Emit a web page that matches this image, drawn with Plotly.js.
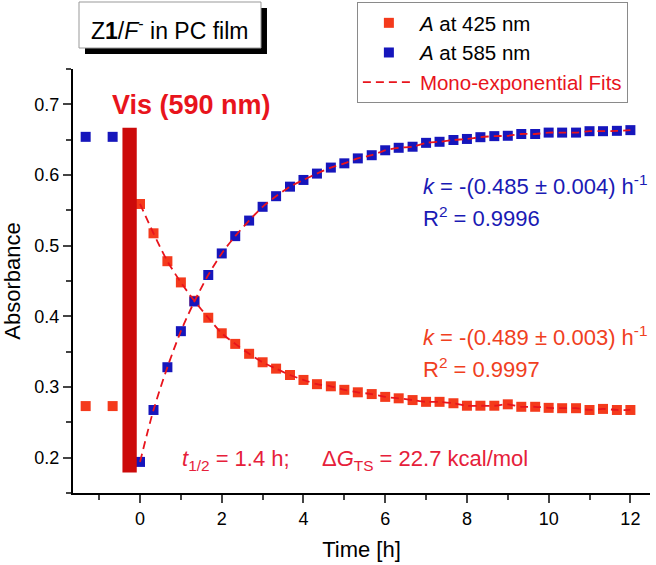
<!DOCTYPE html>
<html>
<head>
<meta charset="utf-8">
<script src="https://cdn.plot.ly/plotly-3.0.1.min.js"></script>
<style>html,body{margin:0;padding:0;background:#fff;}#chart{width:656px;height:565px;}</style>
</head>
<body>
<div id="chart"></div>
<script>
// Time points [h] (two pre-irradiation points, then every 20 min)
var time = [-1.33, -0.67, 0, 0.33, 0.67, 1, 1.33, 1.67, 2, 2.33, 2.67, 3, 3.33, 3.67, 4, 4.33, 4.67, 5, 5.33, 5.67, 6, 6.33, 6.67, 7, 7.33, 7.67, 8, 8.33, 8.67, 9, 9.33, 9.67, 10, 10.33, 10.67, 11, 11.33, 11.67, 12];
// Absorbance at 425 nm
var a425 = [0.273, 0.273, 0.559, 0.5175, 0.478, 0.448, 0.422, 0.398, 0.376, 0.361, 0.347, 0.335, 0.326, 0.317, 0.310, 0.304, 0.301, 0.296, 0.2925, 0.290, 0.286, 0.284, 0.2815, 0.279, 0.279, 0.277, 0.2735, 0.2735, 0.2735, 0.2755, 0.272, 0.272, 0.2705, 0.270, 0.270, 0.2675, 0.269, 0.2675, 0.2675];
// Absorbance at 585 nm
var a585 = [0.654, 0.654, 0.194, 0.2675, 0.328, 0.379, 0.421, 0.4585, 0.489, 0.5135, 0.5355, 0.555, 0.570, 0.5835, 0.593, 0.602, 0.6105, 0.6165, 0.6235, 0.628, 0.635, 0.6385, 0.640, 0.6455, 0.647, 0.6495, 0.651, 0.6535, 0.655, 0.6555, 0.658, 0.658, 0.660, 0.660, 0.660, 0.662, 0.662, 0.6625, 0.6635];
var seriesNames = ['<i>A</i> at 425 nm', '<i>A</i> at 585 nm', 'Mono-exponential Fits'];
var xTickVals = [0, 2, 4, 6, 8, 10, 12];
var yTickVals = [0.2, 0.3, 0.4, 0.5, 0.6, 0.7];

var FONT = 'Liberation Sans, Arial, sans-serif';
var RED_M = '#f43a1c', BLUE_M = '#1616bc', FIT = '#e8141c';

// fit lines start at t = 0 (after the pre-irradiation points)
var tFit = time.slice(2);

var traces = [
  {x: time, y: a425, name: seriesNames[0], mode: 'markers', type: 'scatter',
   marker: {symbol: 'square', size: 10, color: RED_M}},
  {x: time, y: a585, name: seriesNames[1], mode: 'markers', type: 'scatter',
   marker: {symbol: 'square', size: 10, color: BLUE_M}},
  {x: tFit, y: a425.slice(2), name: '<span style="color:#e8141c">' + seriesNames[2] + '</span>',
   mode: 'lines', type: 'scatter', legendgroup: 'fit',
   line: {color: FIT, width: 1.8, dash: '8px,5px', shape: 'spline', smoothing: 0.8}},
  {x: tFit, y: a585.slice(2), name: seriesNames[2], mode: 'lines', type: 'scatter',
   legendgroup: 'fit', showlegend: false,
   line: {color: FIT, width: 1.8, dash: '8px,5px', shape: 'spline', smoothing: 0.8}}
];

var layout = {
  width: 656, height: 565,
  margin: {l: 73, r: 6, t: 69, b: 72, autoexpand: false},
  paper_bgcolor: '#fff', plot_bgcolor: '#fff',
  font: {family: FONT, size: 18, color: '#000'},
  showlegend: true,
  legend: {x: 0.492, y: 1.158, xanchor: 'left', yanchor: 'top', bgcolor: '#fff',
           bordercolor: '#8a8a8a', borderwidth: 1, font: {family: FONT, size: 20.5, color: '#000'},
           itemwidth: 52, tracegroupgap: 0},
  xaxis: {range: [-1.64, 12.48], tickvals: xTickVals, ticks: 'outside', ticklen: 8, tickwidth: 2,
          showline: true, linewidth: 2, linecolor: '#000', showgrid: false, zeroline: false,
          tickfont: {size: 18},
          minor: {dtick: 1, tick0: 0, ticks: 'outside', ticklen: 5, tickwidth: 2, showgrid: false},
          title: {text: 'Time [h]', font: {size: 22}, standoff: 14}},
  yaxis: {range: [0.15, 0.75], tickvals: yTickVals, tickformat: '.1f', ticks: 'outside', ticklen: 8, tickwidth: 2,
          showline: true, linewidth: 2, linecolor: '#000', showgrid: false, zeroline: false,
          tickfont: {size: 18},
          minor: {dtick: 0.05, tick0: 0, ticks: 'outside', ticklen: 5, tickwidth: 2, showgrid: false},
          title: {text: 'Absorbance', font: {size: 22}, standoff: 8}},
  shapes: [
    // irradiation bar
    {type: 'rect', xref: 'x', yref: 'y', x0: -0.43, x1: -0.08, y0: 0.179, y1: 0.667,
     fillcolor: '#cc0a0a', line: {width: 0}, layer: 'above'},
    // title box shadow + box
    {type: 'rect', xref: 'paper', yref: 'paper', x0: 0.0208, x1: 0.3362, y0: 1.0354, y1: 1.1439,
     fillcolor: '#000', line: {width: 0}},
    {type: 'rect', xref: 'paper', yref: 'paper', x0: 0.0104, x1: 0.3258, y0: 1.0495, y1: 1.158,
     fillcolor: '#fff', line: {color: '#999', width: 1}}
  ],
  annotations: [
    {xref: 'paper', yref: 'paper', x: 0.168, y: 1.094, xanchor: 'center', yanchor: 'middle', showarrow: false,
     text: 'Z<b>1</b>/<i>F</i><sup>-</sup> in PC film', font: {size: 23, color: '#000'}},
    {xref: 'x', yref: 'y', x: -0.74, y: 0.699, xanchor: 'left', yanchor: 'middle', showarrow: false,
     text: '<b>Vis (590 nm)</b>', font: {size: 27, color: '#e8141c'}},
    {xref: 'x', yref: 'y', x: 6.88, y: 0.586, xanchor: 'left', yanchor: 'middle', showarrow: false,
     text: '<i>k</i> = -(0.485 ± 0.004) h<sup>-1</sup>', font: {size: 22, color: '#1a1ab4'}},
    {xref: 'x', yref: 'y', x: 6.88, y: 0.541, xanchor: 'left', yanchor: 'middle', showarrow: false,
     text: 'R<sup>2</sup> = 0.9996', font: {size: 22, color: '#1a1ab4'}},
    {xref: 'x', yref: 'y', x: 6.88, y: 0.3723, xanchor: 'left', yanchor: 'middle', showarrow: false,
     text: '<i>k</i> = -(0.489 ± 0.003) h<sup>-1</sup>', font: {size: 22, color: '#f0401e'}},
    {xref: 'x', yref: 'y', x: 6.88, y: 0.3266, xanchor: 'left', yanchor: 'middle', showarrow: false,
     text: 'R<sup>2</sup> = 0.9997', font: {size: 22, color: '#f0401e'}},
    {xref: 'x', yref: 'y', x: 0.98, y: 0.1967, xanchor: 'left', yanchor: 'middle', showarrow: false,
     text: '<i>t</i><sub>1/2</sub> = 1.4 h;', font: {size: 22, color: '#e6203a'}},
    {xref: 'x', yref: 'y', x: 4.4, y: 0.1967, xanchor: 'left', yanchor: 'middle', showarrow: false,
     text: 'Δ<i>G</i><sub>TS</sub> = 22.7 kcal/mol', font: {size: 22, color: '#e6203a'}}
  ]
};

Plotly.newPlot('chart', traces, layout, {displayModeBar: false, staticPlot: true});
</script>
</body>
</html>
